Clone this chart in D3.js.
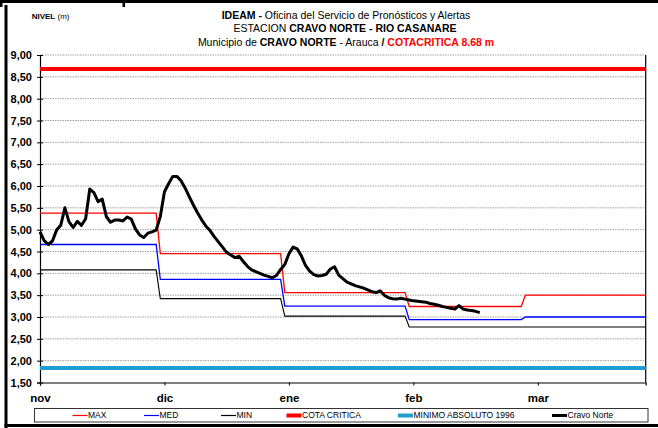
<!DOCTYPE html>
<html>
<head>
<meta charset="utf-8">
<script src="https://cdn.jsdelivr.net/npm/d3@7"></script>
<style>
  body { margin: 0; background: #fff; }
  svg { display: block; font-family: "Liberation Sans", Arial, sans-serif; }
</style>
</head>
<body>
<svg id="chart" width="658" height="428"></svg>
<script>
// Month labels on the time axis and the day index where each one starts
const monthLabels = ["nov", "dic", "ene", "feb", "mar"];
const monthTicks = [0, 30, 60, 90, 120];
const lastDay = 146;

// Level axis ticks (m)
const levelTicks = [1.5, 2, 2.5, 3, 3.5, 4, 4.5, 5, 5.5, 6, 6.5, 7, 7.5, 8, 8.5, 9];

// Monthly reference levels (one value per month, switching on these days)
const stepStarts = [0, 29, 59, 89, 117];
const maxLevels = [5.38, 4.45, 3.56, 3.24, 3.50];
const medLevels = [4.66, 3.86, 3.25, 2.94, 3.00];
const minLevels = [4.08, 3.42, 3.02, 2.77, 2.77];

// Reference thresholds
const cotaCritica = 8.68;
const minimoAbsoluto = 1.83;

// Daily observed level, Cravo Norte station, from 1 Nov
const cravoNorte = [
  4.95, 4.75, 4.66, 4.74, 4.99, 5.10, 5.50, 5.18, 5.05, 5.19,
  5.10, 5.25, 5.93, 5.85, 5.64, 5.70, 5.30, 5.17, 5.22, 5.22,
  5.20, 5.29, 5.24, 5.02, 4.88, 4.82, 4.92, 4.95, 4.99, 5.30,
  5.87, 6.05, 6.22, 6.22, 6.12, 5.95, 5.75, 5.56, 5.38, 5.22,
  5.08, 4.98, 4.84, 4.72, 4.60, 4.48, 4.42, 4.36, 4.39, 4.27,
  4.16, 4.08, 4.04, 4.00, 3.96, 3.93, 3.90, 3.95, 4.09, 4.20,
  4.45, 4.60, 4.56, 4.40, 4.18, 4.05, 3.97, 3.94, 3.95, 3.98,
  4.10, 4.15, 3.96, 3.88, 3.80, 3.76, 3.72, 3.69, 3.66, 3.62,
  3.58, 3.56, 3.60, 3.50, 3.44, 3.42, 3.41, 3.43, 3.41, 3.39,
  3.37, 3.36, 3.35, 3.34, 3.31, 3.29, 3.27, 3.24, 3.22, 3.20,
  3.18, 3.26, 3.18, 3.16, 3.15, 3.13, 3.10
];

const svg = d3.select("#chart");
const plot = { left: 40, right: 645.7, top: 55, bottom: 382.5 };

const x = d3.scaleLinear().domain([0, lastDay]).range([plot.left, plot.right]);
const y = d3.scaleLinear().domain([1.5, 9]).range([plot.bottom, plot.top]);

// Outer frame
svg.append("rect").attr("x", 0).attr("y", 0).attr("width", 658).attr("height", 3).attr("fill", "#000");
svg.append("rect").attr("x", 0).attr("y", 0).attr("width", 2.5).attr("height", 7).attr("fill", "#000");
svg.append("rect").attr("x", 122.5).attr("y", 0).attr("width", 2.5).attr("height", 7).attr("fill", "#000");
svg.append("rect").attr("x", 4.5).attr("y", 5).attr("width", 3).attr("height", 423).attr("fill", "#000");
svg.append("rect").attr("x", 4.5).attr("y", 424).attr("width", 654).attr("height", 3).attr("fill", "#000");

// Titles
const title = svg.append("g").attr("text-anchor", "middle").attr("font-size", 10.5).attr("fill", "#000");
const t1 = title.append("text").attr("x", 346).attr("y", 19);
t1.append("tspan").attr("font-weight", "bold").text("IDEAM - ");
t1.append("tspan").text("Oficina del Servicio de Pronósticos y Alertas");
const t2 = title.append("text").attr("x", 345).attr("y", 32.3);
t2.append("tspan").text("ESTACION ");
t2.append("tspan").attr("font-weight", "bold").text("CRAVO NORTE - RIO CASANARE");
const t3 = title.append("text").attr("x", 346).attr("y", 45.5);
t3.append("tspan").text("Municipio de ");
t3.append("tspan").attr("font-weight", "bold").text("CRAVO NORTE");
t3.append("tspan").text(" - Arauca ");
t3.append("tspan").attr("font-weight", "bold").text(" /  ");
t3.append("tspan").attr("font-weight", "bold").attr("fill", "#ff0000").text("COTACRITICA " + cotaCritica.toFixed(2) + " m");

const unit = svg.append("text").attr("x", 31.7).attr("y", 18.5).attr("font-size", 8);
unit.append("tspan").attr("font-weight", "bold").text("NIVEL");
unit.append("tspan").text(" (m)");

// Horizontal gridlines
svg.append("g")
  .selectAll("line")
  .data(levelTicks.filter(d => d > 1.5))
  .join("line")
  .attr("x1", plot.left).attr("x2", plot.right)
  .attr("y1", d => y(d)).attr("y2", d => y(d))
  .attr("stroke", "#a0a0a0")
  .attr("stroke-width", 1)
  .attr("stroke-dasharray", "1.5,1");

// Right border of the plot area
svg.append("line")
  .attr("x1", plot.right).attr("x2", plot.right)
  .attr("y1", plot.top).attr("y2", plot.bottom)
  .attr("stroke", "#000").attr("stroke-width", 1.2);

// Level axis
const yAxis = d3.axisLeft(y)
  .tickValues(levelTicks)
  .tickSize(3)
  .tickPadding(5)
  .tickFormat(d => d3.format(".2f")(d).replace(".", ","));
const ya = svg.append("g").attr("transform", `translate(${plot.left},0)`).call(yAxis);
ya.select(".domain").attr("stroke", "#000").attr("stroke-width", 1.2);
ya.selectAll(".tick line").attr("stroke", "#000").attr("x2", 3).attr("x1", -3);
ya.selectAll(".tick text")
  .attr("font-family", "Liberation Sans, Arial, sans-serif")
  .attr("font-size", 11).attr("font-weight", "bold").attr("fill", "#000")
  .attr("x", -8);

// Time axis
const xAxis = d3.axisBottom(x)
  .tickValues(monthTicks)
  .tickSize(3)
  .tickPadding(8)
  .tickFormat((d, i) => monthLabels[i]);
const xa = svg.append("g").attr("transform", `translate(0,${plot.bottom})`).call(xAxis);
xa.select(".domain").attr("stroke", "#000").attr("stroke-width", 1.2);
xa.selectAll(".tick line").attr("stroke", "#000");
xa.selectAll(".tick text")
  .attr("font-family", "Liberation Sans, Arial, sans-serif")
  .attr("font-size", 11.5).attr("font-weight", "bold").attr("fill", "#000");

// Monthly step lines
function stepPoints(levels) {
  const pts = [];
  levels.forEach((v, i) => {
    const start = stepStarts[i];
    const end = i < levels.length - 1 ? stepStarts[i + 1] - 1 : lastDay;
    pts.push([start, v], [end, v]);
  });
  return pts;
}
const line = d3.line().x(d => x(d[0])).y(d => y(d[1]));

const series = [
  { key: "MIN", levels: minLevels, color: "#000000", width: 1.1 },
  { key: "MED", levels: medLevels, color: "#0000ff", width: 1.3 },
  { key: "MAX", levels: maxLevels, color: "#ff0000", width: 1.3 }
];
svg.append("g").selectAll("path")
  .data(series)
  .join("path")
  .attr("d", d => line(stepPoints(d.levels)))
  .attr("fill", "none")
  .attr("stroke", d => d.color)
  .attr("stroke-width", d => d.width);

// Thresholds
svg.append("line")
  .attr("x1", plot.left).attr("x2", plot.right)
  .attr("y1", y(cotaCritica)).attr("y2", y(cotaCritica))
  .attr("stroke", "#ff0000").attr("stroke-width", 4);
svg.append("line")
  .attr("x1", plot.left).attr("x2", plot.right)
  .attr("y1", y(minimoAbsoluto)).attr("y2", y(minimoAbsoluto))
  .attr("stroke", "#1e9fd0").attr("stroke-width", 4);

// Observed level
svg.append("path")
  .datum(cravoNorte)
  .attr("d", d3.line().x((d, i) => x(i)).y(d => y(d)))
  .attr("fill", "none")
  .attr("stroke", "#000")
  .attr("stroke-width", 3)
  .attr("stroke-linejoin", "round");

// Legend
const legendItems = [
  { label: "MAX", color: "#ff0000", width: 1.2, x0: 72.5 },
  { label: "MED", color: "#0000ff", width: 1.2, x0: 144 },
  { label: "MIN", color: "#000000", width: 1.2, x0: 221 },
  { label: "COTA CRITICA", color: "#ff0000", width: 4, x0: 286.5 },
  { label: "MINIMO ABSOLUTO 1996", color: "#1e9fd0", width: 4, x0: 398 },
  { label: "Cravo Norte", color: "#000000", width: 3, x0: 552 }
];
svg.append("rect")
  .attr("x", 34.5).attr("y", 408.5).attr("width", 613.5).attr("height", 13.5)
  .attr("fill", "#fff").attr("stroke", "#333").attr("stroke-width", 1);
const lg = svg.append("g").selectAll("g").data(legendItems).join("g")
  .attr("transform", d => `translate(${d.x0},415.5)`);
lg.append("line").attr("x1", 0).attr("x2", 15)
  .attr("stroke", d => d.color).attr("stroke-width", d => d.width);
lg.append("text").attr("x", 15.5).attr("dy", "0.35em")
  .attr("font-size", 8.5).attr("fill", "#000").text(d => d.label);
</script>
</body>
</html>
